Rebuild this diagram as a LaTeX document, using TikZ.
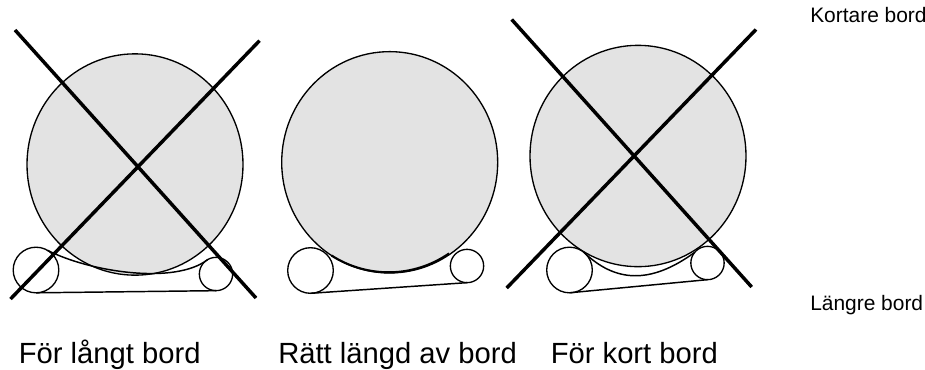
\documentclass[tikz,border=0pt]{standalone}
\usepackage{fontspec}
\usetikzlibrary{shapes.geometric}
\setmainfont{Liberation Sans}
\begin{document}
\begin{tikzpicture}[x=0.75pt,y=-0.75pt,
  disc/.style={ellipse,draw=black,line width=1pt,fill=discgray,inner sep=0pt,outer sep=0pt,minimum width=162pt,minimum height=166pt},
  roller/.style={circle,draw=black,line width=1pt,fill=white,inner sep=0pt,outer sep=0pt},
  rollerL/.style={roller,minimum size=34.2pt},
  rollerR/.style={roller,minimum size=25pt},
  belt/.style={line width=1.1pt,draw=black},
  crossline/.style={line width=2.6pt,draw=black},
  biglabel/.style={anchor=base west,inner sep=0pt,font=\fontsize{21.9}{25}\selectfont},
  smalllabel/.style={anchor=base west,inner sep=0pt,font=\fontsize{15.7}{18}\selectfont}]
\definecolor{discgray}{gray}{0.89}
\useasboundingbox (0,0) rectangle (925,369);
% first
\node[disc] (d1) at (135,164.5) {};
\node[rollerL] (a1) at (36,270) {};
\node[rollerR] (b1) at (216,274) {};
\draw[belt] (a1.south) -- (b1.south);
\draw[belt] (a1.60) .. controls (90,272) and (175,285) .. (b1.120);
\coordinate (p1) at (15,30); \coordinate (q1) at (256,298);
\coordinate (r1) at (259.5,40.7); \coordinate (s1) at (10.5,299);
\draw[crossline] (p1) -- (q1);
\draw[crossline] (r1) -- (s1);
% second
\node[disc] (d2) at (389.7,162.3) {};
\node[rollerL] (a2) at (310.5,270.5) {};
\node[rollerR] (b2) at (467,266) {};
\draw[belt] (a2.south) -- (b2.south);
\draw[line width=1.6pt] (d2.-122) arc[start angle=-122,end angle=-56,x radius=81pt,y radius=83pt];
% third
\node[disc] (d3) at (638,156) {};
\node[rollerL] (a3) at (569.5,270) {};
\node[rollerR] (b3) at (707.5,263) {};
\draw[belt] (a3.south) -- (b3.south);
\draw[belt] (a3.50) .. controls (615,282) and (650,285) .. (b3.140);
\coordinate (p3) at (511.7,19.5); \coordinate (q3) at (751.7,287);
\coordinate (r3) at (756,29.5); \coordinate (s3) at (506.7,288);
\draw[crossline] (p3) -- (q3);
\draw[crossline] (r3) -- (s3);
% labels
\node[biglabel] (t1) at (18.5,363) {För långt bord};
\node[biglabel] (t2) at (278,363) {Rätt längd av bord};
\node[biglabel] (t3) at (550.5,363) {För kort bord};
\node[smalllabel] (k) at (810,22) {Kortare bord};
\node[smalllabel] (l) at (810,310) {Längre bord};
\end{tikzpicture}
\end{document}
